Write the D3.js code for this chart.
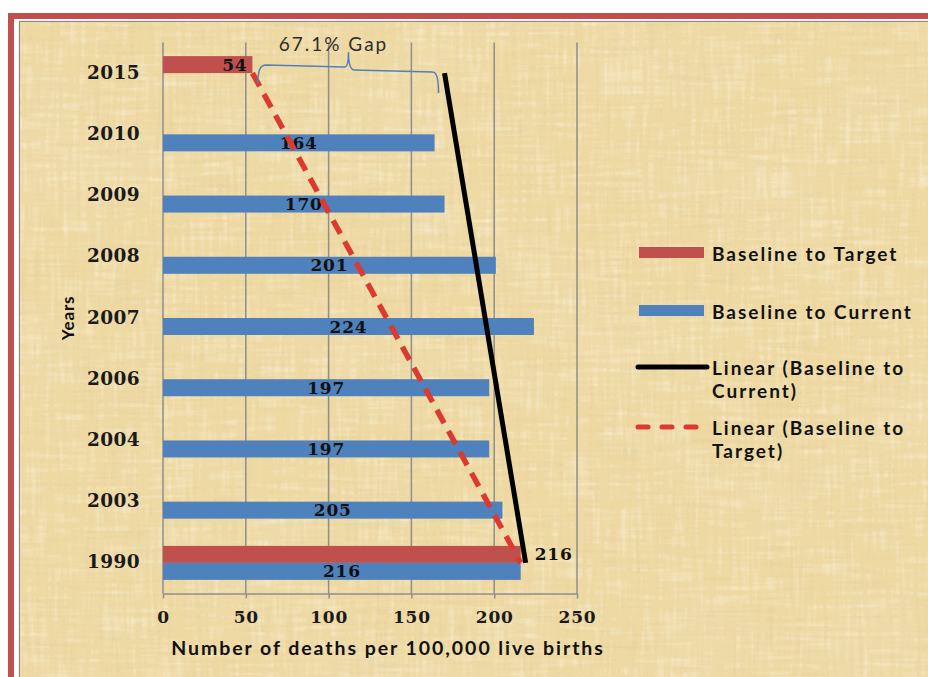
<!DOCTYPE html>
<html>
<head>
<meta charset="utf-8">
<script src="https://cdn.jsdelivr.net/npm/d3@7"></script>
<style>
  html, body { margin: 0; padding: 0; background: #fff; }
  svg { display: block; }
</style>
</head>
<body>
<svg id="chart" width="928" height="677"></svg>
<script>
// Maternal deaths per 100,000 live births
const years = ["2015", "2010", "2009", "2008", "2007", "2006", "2004", "2003", "1990"];
const baselineToTarget  = [54, null, null, null, null, null, null, null, 216];
const baselineToCurrent = [null, 164, 170, 201, 224, 197, 197, 205, 216];
// Linear trendline end values (first and last category)
const trendCurrentYears  = ["2015", "1990"];
const trendCurrentValues = [170, 219];
const trendTargetYears   = ["2015", "1990"];
const trendTargetValues  = [54, 216];
const xTicks = [0, 50, 100, 150, 200, 250];
// Gap annotation between target and current level
const gapLabel = "67.1% Gap";
const gapRange = [57, 167];

const seriesNames = ["Baseline to Target", "Baseline to Current"];
const seriesColors = ["#C0504D", "#4F81BD"];

const W = 928, H = 677;
const svg = d3.select("#chart");

// ---------- background: page, frame and papyrus texture ----------
const defs = svg.append("defs");
function fiberFilter(id, fx, fy, seedA, seedB, matrix) {
  const f = defs.append("filter").attr("id", id)
    .attr("x", 0).attr("y", 0).attr("width", "100%").attr("height", "100%");
  f.append("feTurbulence").attr("type", "fractalNoise").attr("baseFrequency", `${fx} ${fy}`)
    .attr("numOctaves", 2).attr("seed", seedA).attr("result", "v");
  f.append("feTurbulence").attr("type", "fractalNoise").attr("baseFrequency", `${fy} ${fx}`)
    .attr("numOctaves", 2).attr("seed", seedB).attr("result", "h");
  f.append("feComposite").attr("in", "v").attr("in2", "h").attr("operator", "arithmetic")
    .attr("k1", 0).attr("k2", 0.5).attr("k3", 0.5).attr("k4", 0).attr("result", "n");
  f.append("feColorMatrix").attr("in", "n").attr("type", "matrix").attr("values", matrix);
  f.append("feGaussianBlur").attr("stdDeviation", 0.5);
}
fiberFilter("fibersDark", 0.3, 0.012, 4, 9, "0 0 0 0 0.72  0 0 0 0 0.58  0 0 0 0 0.32  1.3 0 0 0 -0.66");
fiberFilter("fibersLight", 0.22, 0.02, 21, 13, "0 0 0 0 1  0 0 0 0 0.96  0 0 0 0 0.86  -1.4 0 0 0 0.72");

const blot = defs.append("filter").attr("id", "blotches")
  .attr("x", 0).attr("y", 0).attr("width", "100%").attr("height", "100%");
blot.append("feTurbulence").attr("type", "fractalNoise").attr("baseFrequency", "0.006 0.01")
  .attr("numOctaves", 3).attr("seed", 2).attr("result", "n");
blot.append("feColorMatrix").attr("in", "n").attr("type", "matrix")
  .attr("values", "0 0 0 0 0.88  0 0 0 0 0.75  0 0 0 0 0.48  0.8 0 0 0 -0.38");

svg.append("rect").attr("width", W).attr("height", H).attr("fill", "#fff");
svg.append("rect").attr("x", 11).attr("y", 16).attr("width", W + 20).attr("height", H + 20)
  .attr("fill", "none").attr("stroke", "#C0504D").attr("stroke-width", 6);
svg.append("rect").attr("x", 19.5).attr("y", 21.5).attr("width", W).attr("height", H)
  .attr("fill", "none").attr("stroke", "#8a8a8a").attr("stroke-width", 1.3);

const paper = svg.append("g");
const paperBox = { x: 20, y: 22, width: W - 20, height: H - 22 };
paper.append("rect").attr("x", paperBox.x).attr("y", paperBox.y)
  .attr("width", paperBox.width).attr("height", paperBox.height).attr("fill", "#EED9A3");
["blotches", "fibersDark", "fibersLight"].forEach(id => {
  paper.append("rect").attr("x", paperBox.x).attr("y", paperBox.y)
    .attr("width", paperBox.width).attr("height", paperBox.height)
    .attr("filter", `url(#${id})`);
});

// ---------- scales ----------
const x = d3.scaleLinear().domain([0, 250]).range([163, 577]);
const y = d3.scaleBand().domain(years).range([42.5, 593.5]).padding(0);
const bw = y.bandwidth();
const barH = 17;
const sub = d3.scaleBand().domain(seriesNames).range([bw / 2 - barH, bw / 2 + barH]).padding(0);
const cy = yr => y(yr) + bw / 2;

const serifFont = "'DejaVu Serif', 'Liberation Serif', serif";
const sansFont = "Lato, 'Open Sans', sans-serif";

// ---------- gridlines ----------
svg.append("g").selectAll("line").data(xTicks.filter(t => t > 0)).join("line")
  .attr("x1", d => x(d)).attr("x2", d => x(d))
  .attr("y1", y.range()[0]).attr("y2", y.range()[1])
  .attr("stroke", "#8e8e8e").attr("stroke-width", 1.5);

// ---------- x axis ----------
const xAxis = svg.append("g").attr("transform", `translate(0,${y.range()[1]})`)
  .call(d3.axisBottom(x).tickValues(xTicks).tickSize(5).tickSizeOuter(0).tickPadding(12));
xAxis.select(".domain").attr("stroke", "#8e8e8e").attr("stroke-width", 1.5);
xAxis.selectAll(".tick line").attr("stroke", "#8e8e8e").attr("stroke-width", 1.5);
xAxis.selectAll(".tick text")
  .attr("font-family", serifFont).attr("font-weight", "bold").attr("font-size", 17)
  .attr("fill", "#1a1a1a").attr("letter-spacing", 0.8);

// ---------- y axis ----------
svg.append("line").attr("x1", x(0)).attr("x2", x(0))
  .attr("y1", y.range()[0]).attr("y2", y.range()[1])
  .attr("stroke", "#8e8e8e").attr("stroke-width", 1.5);
svg.append("g").selectAll("text").data(years).join("text")
  .attr("x", 140).attr("y", d => cy(d) - 1)
  .attr("text-anchor", "end").attr("dominant-baseline", "central")
  .attr("font-family", serifFont).attr("font-weight", "bold").attr("font-size", 18.5)
  .attr("fill", "#1a1a1a").attr("letter-spacing", 0.4)
  .text(d => d);

// ---------- bars ----------
const rows = [];
years.forEach((yr, i) => {
  [baselineToTarget, baselineToCurrent].forEach((arr, s) => {
    if (arr[i] != null) rows.push({ year: yr, series: seriesNames[s], color: seriesColors[s], value: arr[i] });
  });
});
svg.append("g").selectAll("rect").data(rows).join("rect")
  .attr("x", x(0)).attr("y", d => y(d.year) + sub(d.series))
  .attr("width", d => x(d.value) - x(0)).attr("height", sub.bandwidth())
  .attr("fill", d => d.color);

// ---------- data labels ----------
const labels = svg.append("g")
  .attr("font-family", serifFont).attr("font-weight", "bold").attr("font-size", 17)
  .attr("fill", "#111").attr("letter-spacing", 0.8);
rows.forEach(d => {
  const ym = y(d.year) + sub(d.series) + sub.bandwidth() / 2;
  let lx, anchor;
  if (d.series === seriesNames[1]) { lx = (x(0) + x(d.value)) / 2; anchor = "middle"; }
  else if (d.year === "2015") { lx = x(d.value) - 5; anchor = "end"; }
  else { lx = x(d.value) + 14; anchor = "start"; }
  labels.append("text").attr("x", lx).attr("y", ym)
    .attr("text-anchor", anchor).attr("dominant-baseline", "central").text(d.value);
});

// ---------- linear trendlines ----------
const line = d3.line().x(d => x(d.value)).y(d => cy(d.year));
const trendCurrent = trendCurrentYears.map((yr, i) => ({ year: yr, value: trendCurrentValues[i] }));
const trendTarget = trendTargetYears.map((yr, i) => ({ year: yr, value: trendTargetValues[i] }));
svg.append("path").datum(trendTarget).attr("d", line)
  .attr("fill", "none").attr("stroke", "#DB3A31").attr("stroke-width", 5.5)
  .attr("stroke-dasharray", "15,9");
svg.append("path").datum(trendCurrent).attr("d", line)
  .attr("fill", "none").attr("stroke", "#000").attr("stroke-width", 5);

// ---------- gap brace annotation ----------
const base = cy("2015");
const x0 = x(gapRange[0]), x1 = x(gapRange[1]), xm = (x0 + x1) / 2 + 1;
const brace = d3.path();
brace.moveTo(x0, base + 10);
brace.bezierCurveTo(x0 + 1, base - 2, x0 + 2, base - 8, x0 + 9, base - 8);
brace.lineTo(xm - 5, base - 6);
brace.quadraticCurveTo(xm - 1, base - 6, xm - 1, base - 21);
brace.quadraticCurveTo(xm - 1, base - 3, xm + 5, base - 3);
brace.lineTo(x1 - 7, base - 1);
brace.quadraticCurveTo(x1 - 1, base - 1, x1 - 1, base + 20);
svg.append("path").attr("d", brace.toString())
  .attr("fill", "none").attr("stroke", "#4F81BD").attr("stroke-width", 1.5);
svg.append("text").attr("x", xm - 16).attr("y", base - 30)
  .attr("text-anchor", "middle").attr("dominant-baseline", "central")
  .attr("font-family", sansFont).attr("font-size", 19).attr("letter-spacing", 2)
  .attr("fill", "#2e2e2e").text(gapLabel);

// ---------- axis titles ----------
svg.append("text").attr("x", 388).attr("y", 647)
  .attr("text-anchor", "middle").attr("dominant-baseline", "central")
  .attr("font-family", sansFont).attr("font-weight", "bold").attr("font-size", 19.5)
  .attr("letter-spacing", 1.95).attr("fill", "#111")
  .text("Number of deaths per 100,000 live births");
svg.append("text").attr("transform", "translate(67,318) rotate(-90)")
  .attr("text-anchor", "middle").attr("dominant-baseline", "central")
  .attr("font-family", sansFont).attr("font-weight", "bold").attr("font-size", 17)
  .attr("letter-spacing", 0.8).attr("fill", "#111")
  .text("Years");

// ---------- legend ----------
const legendItems = [
  { type: "rect", color: seriesColors[0], lines: ["Baseline to Target"], y: 253 },
  { type: "rect", color: seriesColors[1], lines: ["Baseline to Current"], y: 311 },
  { type: "solid", color: "#000", lines: ["Linear (Baseline to", "Current)"], y: 367 },
  { type: "dash", color: "#DB3A31", lines: ["Linear (Baseline to", "Target)"], y: 427 }
];
const legend = svg.append("g");
legendItems.forEach(it => {
  if (it.type === "rect") {
    legend.append("rect").attr("x", 639).attr("y", it.y - 6).attr("width", 65).attr("height", 11).attr("fill", it.color);
  } else {
    legend.append("line").attr("x1", 638).attr("x2", 707).attr("y1", it.y).attr("y2", it.y)
      .attr("stroke", it.color).attr("stroke-width", 5)
      .attr("stroke-linecap", "round")
      .attr("stroke-dasharray", it.type === "dash" ? "10,14" : null);
  }
  const t = legend.append("text").attr("x", 712).attr("y", it.y)
    .attr("font-family", sansFont).attr("font-weight", "bold").attr("font-size", 19)
    .attr("letter-spacing", 2).attr("fill", "#111");
  it.lines.forEach((s, i) => {
    t.append("tspan").attr("x", 712).attr("y", it.y + i * 23)
      .attr("dominant-baseline", "central").text(s);
  });
});
</script>
</body>
</html>
